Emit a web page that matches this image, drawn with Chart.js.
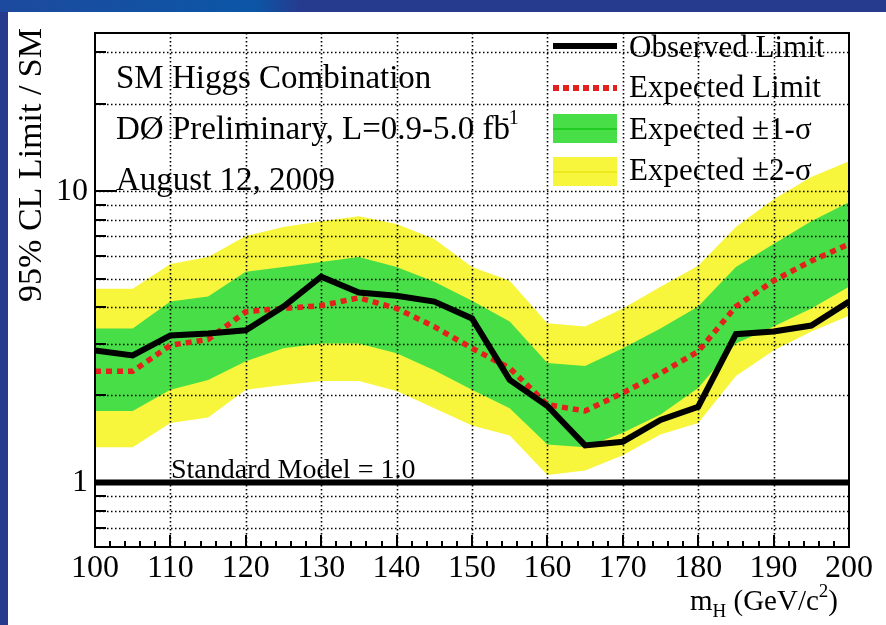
<!DOCTYPE html>
<html>
<head>
<meta charset="utf-8">
<script src="https://cdn.jsdelivr.net/npm/chart.js@4.4.0/dist/chart.umd.min.js"></script>
<style>
  html, body { margin: 0; padding: 0; background: #263b8e; overflow: hidden; }
  #wrap { width: 886px; height: 625px; }
</style>
</head>
<body>
<div id="wrap"><canvas id="limitChart" width="886" height="625"></canvas></div>
<script>
// Higgs mass points (GeV/c^2)
const masses = [100, 105, 110, 115, 120, 125, 130, 135, 140, 145, 150, 155, 160, 165, 170, 175, 180, 185, 190, 195, 200];

// 95% CL limit / SM
const observed   = [2.84, 2.73, 3.20, 3.25, 3.33, 4.02, 5.09, 4.49, 4.38, 4.18, 3.66, 2.25, 1.83, 1.34, 1.38, 1.64, 1.82, 3.23, 3.30, 3.46, 4.18];
const expected   = [2.41, 2.41, 2.96, 3.10, 3.86, 3.96, 4.05, 4.31, 3.96, 3.43, 2.89, 2.47, 1.85, 1.76, 2.03, 2.37, 2.82, 4.02, 4.93, 5.77, 6.59];
const sigma1Up   = [3.38, 3.38, 4.18, 4.35, 5.29, 5.50, 5.72, 5.95, 5.50, 4.89, 4.21, 3.57, 2.57, 2.51, 2.89, 3.38, 4.02, 5.50, 6.59, 7.90, 9.17];
const sigma1Down = [1.76, 1.76, 2.08, 2.25, 2.61, 2.89, 3.00, 3.00, 2.78, 2.43, 2.08, 1.80, 1.35, 1.32, 1.48, 1.71, 2.11, 3.00, 3.43, 3.96, 4.70];
const sigma2Up   = [4.63, 4.63, 5.63, 5.95, 7.02, 7.54, 7.90, 8.22, 7.72, 6.86, 5.50, 4.93, 3.52, 3.43, 3.96, 4.70, 5.55, 7.54, 9.39, 11.2, 12.7];
const sigma2Down = [1.32, 1.32, 1.60, 1.67, 2.08, 2.16, 2.23, 2.23, 2.06, 1.80, 1.57, 1.45, 1.06, 1.10, 1.24, 1.46, 1.60, 2.32, 2.84, 3.30, 3.74];

// Standard Model reference line
const smMasses = [100, 200];
const smValues = [1, 1];

// axis ticks
const xMajorTicks = [100, 110, 120, 130, 140, 150, 160, 170, 180, 190, 200];
const xMinorStep = 2;
const yTicks = [0.7, 0.8, 0.9, 1, 2, 3, 4, 5, 6, 7, 8, 9, 10, 20, 30];
const yTickLabels = { 1: '1', 10: '10' };

const legendLabels = ['Observed Limit', 'Expected Limit', 'Expected \u00b11-\u03c3', 'Expected \u00b12-\u03c3'];
const infoLines = ['SM Higgs Combination', 'D\u00d8 Preliminary, L=0.9-5.0 fb', 'August 12, 2009'];

const SERIF = '"Liberation Serif", "DejaVu Serif", serif';
const GREEN = '#47de47';
const YELLOW = '#f7f53c';
const RED = '#e4201c';

function toPoints(xs, ys) {
    return xs.map((x, i) => ({ x: x, y: ys[i] }));
}

// page background: blue slide border with white panel
const backgroundPlugin = {
    id: 'background',
    beforeDraw(chart) {
        const ctx = chart.ctx;
        ctx.save();
        ctx.fillStyle = '#263b8e';
        ctx.fillRect(0, 0, chart.width, chart.height);
        const g = ctx.createLinearGradient(0, 0, 300, 0);
        g.addColorStop(0, '#1d4a9e');
        g.addColorStop(0.85, '#0b56a6');
        g.addColorStop(1, '#263b8e');
        ctx.fillStyle = g;
        ctx.fillRect(0, 0, 300, 12);
        ctx.fillStyle = '#ffffff';
        ctx.fillRect(8, 12, chart.width - 8, chart.height - 12);
        ctx.restore();
    }
};

// dotted grid drawn over the bands, under the lines
const gridPlugin = {
    id: 'dottedGrid',
    beforeDatasetDraw(chart, args) {
        if (args.index !== 2) return;
        const { ctx, chartArea: a, scales: { x, y } } = chart;
        ctx.save();
        ctx.strokeStyle = '#000';
        ctx.lineWidth = 1.6;
        ctx.setLineDash([1.5, 2.5]);
        xMajorTicks.forEach(v => {
            if (v === 100 || v === 200) return;
            const px = Math.round(x.getPixelForValue(v)) + 0.5;
            ctx.beginPath();
            ctx.moveTo(px, a.top);
            ctx.lineTo(px, a.bottom);
            ctx.stroke();
        });
        yTicks.forEach(v => {
            const py = Math.round(y.getPixelForValue(v)) + 0.5;
            ctx.beginPath();
            ctx.moveTo(a.left, py);
            ctx.lineTo(a.right, py);
            ctx.stroke();
        });
        ctx.restore();
    }
};

// frame, tick marks, texts and legend
const decorPlugin = {
    id: 'decor',
    afterDraw(chart) {
        const { ctx, chartArea: a, scales: { x, y } } = chart;
        ctx.save();

        // frame
        ctx.strokeStyle = '#000';
        ctx.lineWidth = 2;
        ctx.strokeRect(a.left, a.top, a.right - a.left, a.bottom - a.top);

        // y ticks inside on the left
        ctx.lineWidth = 2;
        yTicks.forEach(v => {
            const py = Math.round(y.getPixelForValue(v));
            const len = (v === 1 || v === 10) ? 22 : 11;
            ctx.beginPath();
            ctx.moveTo(a.left, py);
            ctx.lineTo(a.left + len, py);
            ctx.stroke();
        });

        // x ticks inside at the bottom
        for (let v = 100; v <= 200; v += xMinorStep) {
            const px = Math.round(x.getPixelForValue(v));
            const len = (v % 10 === 0) ? 12 : 6;
            ctx.beginPath();
            ctx.moveTo(px, a.bottom);
            ctx.lineTo(px, a.bottom - len);
            ctx.stroke();
        }

        ctx.fillStyle = '#000';
        ctx.textBaseline = 'alphabetic';
        ctx.textAlign = 'left';

        // info text
        ctx.font = '33px ' + SERIF;
        ctx.fillText(infoLines[0], 116, 88);
        ctx.fillText(infoLines[1], 116, 139);
        const w = ctx.measureText(infoLines[1]).width;
        ctx.fillText(infoLines[2], 116, 190);
        ctx.font = '20px ' + SERIF;
        ctx.fillText('-1', 116 + w - 8, 124);

        // standard model label
        ctx.font = '28px ' + SERIF;
        ctx.fillText('Standard Model = 1.0', 171, 478);

        // legend
        const lx0 = 553, lx1 = 617, tx = 629;
        ctx.font = '31px ' + SERIF;
        ctx.lineWidth = 6;
        ctx.strokeStyle = '#000';
        ctx.beginPath();
        ctx.moveTo(lx0, 46);
        ctx.lineTo(lx1, 46);
        ctx.stroke();
        ctx.fillText(legendLabels[0], tx, 57);

        ctx.strokeStyle = RED;
        ctx.setLineDash([6, 4]);
        ctx.beginPath();
        ctx.moveTo(lx0, 88);
        ctx.lineTo(lx1, 88);
        ctx.stroke();
        ctx.setLineDash([]);
        ctx.fillText(legendLabels[1], tx, 97);

        ctx.fillStyle = GREEN;
        ctx.fillRect(lx0, 114, lx1 - lx0, 29);
        ctx.strokeStyle = '#22cc22';
        ctx.lineWidth = 2;
        ctx.beginPath();
        ctx.moveTo(lx0, 129);
        ctx.lineTo(lx1, 129);
        ctx.stroke();
        ctx.fillStyle = '#000';
        ctx.fillText(legendLabels[2], tx, 139);

        ctx.fillStyle = YELLOW;
        ctx.fillRect(lx0, 157, lx1 - lx0, 29);
        ctx.strokeStyle = '#ecea1c';
        ctx.beginPath();
        ctx.moveTo(lx0, 172);
        ctx.lineTo(lx1, 172);
        ctx.stroke();
        ctx.fillStyle = '#000';
        ctx.fillText(legendLabels[3], tx, 180);

        // x axis title: m_H (GeV/c^2), right aligned at the frame end
        const big = '29px ' + SERIF, small = '19px ' + SERIF;
        const parts = [
            { t: 'm', f: big, dy: 0 },
            { t: 'H', f: small, dy: 7 },
            { t: ' (GeV/c', f: big, dy: 0 },
            { t: '2', f: small, dy: -13 },
            { t: ')', f: big, dy: 0 }
        ];
        let total = 0;
        parts.forEach(p => { ctx.font = p.f; p.w = ctx.measureText(p.t).width; total += p.w; });
        let cx = 838 - total;
        parts.forEach(p => {
            ctx.font = p.f;
            ctx.fillText(p.t, cx, 610 + p.dy);
            cx += p.w;
        });

        // y axis title, rotated, aligned to the top
        ctx.translate(41, 28);
        ctx.rotate(-Math.PI / 2);
        ctx.textAlign = 'right';
        ctx.font = '34px ' + SERIF;
        ctx.fillText('95% CL Limit / SM', 0, 0);

        ctx.restore();
    }
};

const ctx = document.getElementById('limitChart');

new Chart(ctx, {
    type: 'line',
    data: {
        datasets: [
            {
                label: 'Observed Limit',
                data: toPoints(masses, observed),
                borderColor: '#000',
                borderWidth: 6,
                pointRadius: 0,
                tension: 0,
                fill: false
            },
            {
                label: 'Standard Model',
                data: toPoints(smMasses, smValues),
                borderColor: '#000',
                borderWidth: 6,
                pointRadius: 0,
                fill: false
            },
            {
                label: 'Expected Limit',
                data: toPoints(masses, expected),
                borderColor: RED,
                borderWidth: 5.5,
                borderDash: [6, 5],
                borderCapStyle: 'butt',
                pointRadius: 0,
                tension: 0,
                fill: false
            },
            {
                label: 'Expected +1 sigma',
                data: toPoints(masses, sigma1Up),
                borderWidth: 0,
                borderColor: 'rgba(0,0,0,0)',
                backgroundColor: GREEN,
                pointRadius: 0,
                tension: 0,
                fill: '+1'
            },
            {
                label: 'Expected -1 sigma',
                data: toPoints(masses, sigma1Down),
                borderWidth: 0,
                borderColor: 'rgba(0,0,0,0)',
                pointRadius: 0,
                tension: 0,
                fill: false
            },
            {
                label: 'Expected +2 sigma',
                data: toPoints(masses, sigma2Up),
                borderWidth: 0,
                borderColor: 'rgba(0,0,0,0)',
                backgroundColor: YELLOW,
                pointRadius: 0,
                tension: 0,
                fill: '+1'
            },
            {
                label: 'Expected -2 sigma',
                data: toPoints(masses, sigma2Down),
                borderWidth: 0,
                borderColor: 'rgba(0,0,0,0)',
                pointRadius: 0,
                tension: 0,
                fill: false
            }
        ]
    },
    options: {
        responsive: false,
        animation: false,
        devicePixelRatio: 1,
        layout: { padding: { left: 8, top: 33, right: 37, bottom: 0 } },
        plugins: {
            legend: { display: false },
            tooltip: { enabled: false },
            filler: { propagate: false }
        },
        scales: {
            x: {
                type: 'linear',
                min: 100,
                max: 200,
                grid: { display: false, drawTicks: false },
                border: { display: false },
                afterBuildTicks(scale) {
                    scale.ticks = xMajorTicks.map(v => ({ value: v }));
                },
                afterFit(scale) { scale.height = 78; },
                ticks: {
                    color: '#000',
                    padding: 2,
                    maxRotation: 0,
                    font: { family: SERIF, size: 32 }
                }
            },
            y: {
                type: 'logarithmic',
                min: 0.615,
                max: 35,
                grid: { display: false, drawTicks: false },
                border: { display: false },
                afterBuildTicks(scale) {
                    scale.ticks = yTicks.map(v => ({ value: v }));
                },
                afterFit(scale) { scale.width = 87; },
                ticks: {
                    color: '#000',
                    padding: 7,
                    autoSkip: false,
                    font: { family: SERIF, size: 32 },
                    callback: v => yTickLabels[v] || ''
                }
            }
        }
    },
    plugins: [backgroundPlugin, gridPlugin, decorPlugin]
});
</script>
</body>
</html>
